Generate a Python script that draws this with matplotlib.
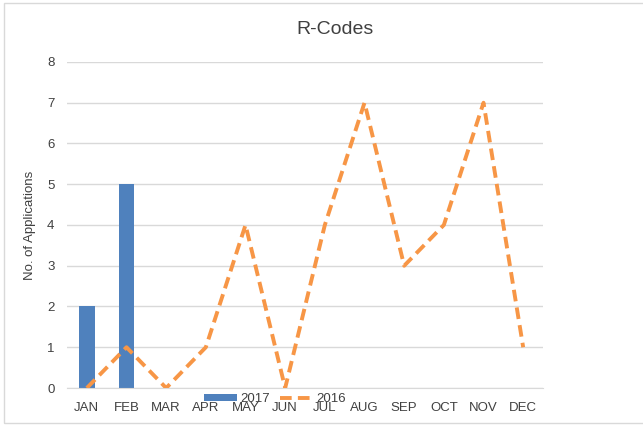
import numpy as np
import matplotlib
matplotlib.use("Agg")
import matplotlib.pyplot as plt
from matplotlib.patches import Rectangle

# datos
months = ["JAN", "FEB", "MAR", "APR", "MAY", "JUN", "JUL", "AUG", "SEP", "OCT", "NOV", "DEC"]
apps_2017 = [2, 5, 0, 0, 0, 0, 0, 0, 0, 0, 0, 0]
apps_2016 = [0, 1, 0, 1, 4, 0, 4, 7, 3, 4, 7, 1]

plt.rcParams["font.family"] = ["Liberation Sans", "DejaVu Sans"]

fig = plt.figure(figsize=(6.43, 4.26), dpi=100)
ax = fig.add_axes([0.1042, 0.0892, 0.7403, 0.7653])

x = np.arange(len(months))
bars = ax.bar(x, apps_2017, width=0.4, color="#4F81BD", label="2017", zorder=2)
line, = ax.plot(x, apps_2016, color="#F79646", lw=2.8, linestyle=(0, (3, 1.6)),
                label="2016", zorder=3)

ax.set_xlim(-0.5, len(months) - 0.5)
ax.set_ylim(0, 8)
ax.set_yticks(range(0, 9))
ax.set_xticks(x)
ax.set_xticklabels(months)
ax.tick_params(axis="both", length=0, labelsize=9.5, colors="#404040")
ax.tick_params(axis="y", pad=9)
ax.tick_params(axis="x", pad=10)
ax.grid(axis="y", color="#D9D9D9", lw=1, zorder=0)
for s in ["top", "right", "left"]:
    ax.spines[s].set_visible(False)
ax.spines["bottom"].set_color("#D9D9D9")

ax.set_ylabel("No. of Applications", fontsize=9.5, color="#404040", labelpad=8)
fig.text(0.521, 0.93, "R-Codes", ha="center", va="center", fontsize=14, color="#404040")

fig.legend([bars, line], ["2017", "2016"], loc="center", bbox_to_anchor=(0.428, 0.063),
           ncol=2, frameon=False, fontsize=9.5, handlelength=2.5, handleheight=0.5,
           columnspacing=0.8, handletextpad=0.25, labelcolor="#404040")

# marco del grafico
fig.patches.append(Rectangle((4 / 643, 3 / 426), 1.0, 420 / 426, transform=fig.transFigure,
                             fill=False, edgecolor="#D9D9D9", lw=1))

fig.savefig("out.png", dpi=100)
